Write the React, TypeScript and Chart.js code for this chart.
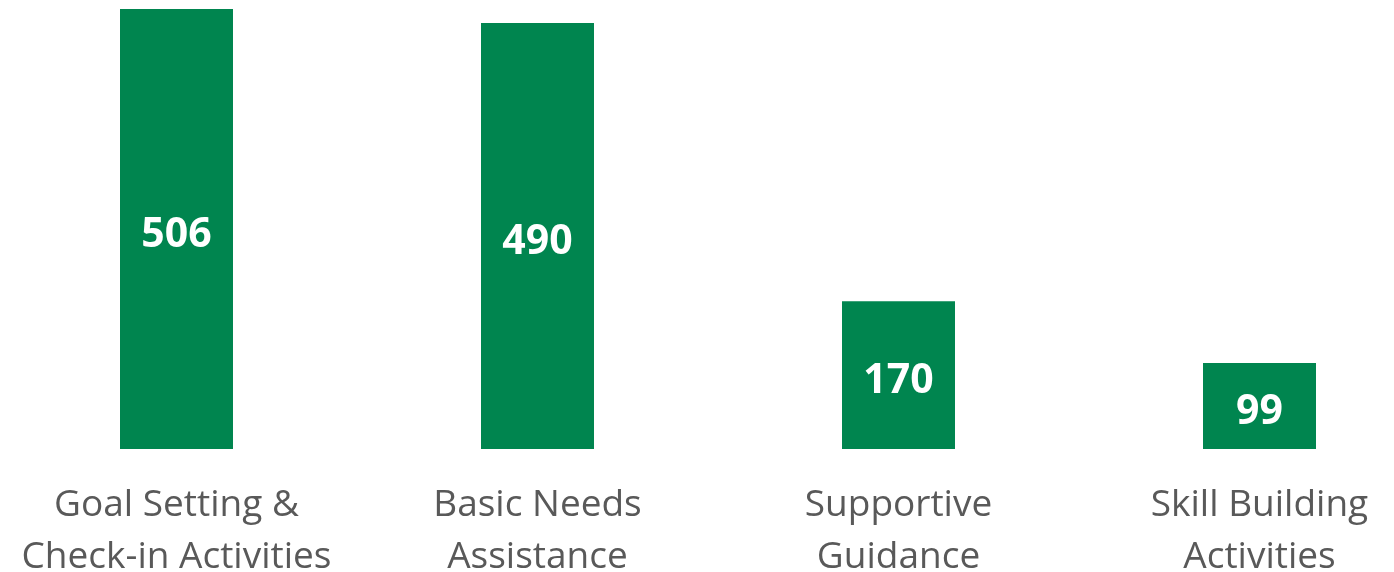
import React, { useEffect, useRef } from "react";
import { Chart, registerables } from "chart.js";

Chart.register(...registerables);

const categories: string[][] = [
  ["Goal Setting &", "Check-in Activities"],
  ["Basic Needs", "Assistance"],
  ["Supportive", "Guidance"],
  ["Skill Building", "Activities"],
];
const values: number[] = [506, 490, 170, 99];
const barColor = "#00854F";

const valueLabelPlugin = {
  id: "valueLabels",
  afterDatasetsDraw(chart: any) {
    const ctx = chart.ctx;
    const meta = chart.getDatasetMeta(0);
    ctx.save();
    ctx.fillStyle = "#ffffff";
    ctx.font = "bold 41px 'Open Sans'";
    ctx.textAlign = "center";
    ctx.textBaseline = "middle";
    meta.data.forEach((bar: any, i: number) => {
      const cy = (bar.y + bar.base) / 2;
      ctx.fillText(String(values[i]), bar.x, cy + 6);
    });
    ctx.restore();
  },
};

export default function App() {
  const ref = useRef<HTMLCanvasElement>(null);
  useEffect(() => {
    if (!ref.current) return;
    const chart = new Chart(ref.current, {
      type: "bar",
      data: {
        labels: categories,
        datasets: [
          {
            data: values,
            backgroundColor: barColor,
            categoryPercentage: 1,
            barPercentage: 0.313,
          },
        ],
      },
      options: {
        animation: false,
        responsive: false,
        maintainAspectRatio: false,
        layout: { padding: { top: 9, left: 0, right: 0, bottom: 0 } },
        plugins: { legend: { display: false }, tooltip: { enabled: false } },
        scales: {
          x: {
            offset: true,
            grid: { display: false, drawTicks: false },
            border: { display: false },
            ticks: {
              color: "#595959",
              font: { family: "'Open Sans'", size: 37, lineHeight: 52 / 37 },
              padding: 30,
              autoSkip: false,
              maxRotation: 0,
              minRotation: 0,
            },
            afterFit: (scale: any) => {
              scale.height = 123;
              scale.paddingLeft = 0;
              scale.paddingRight = 0;
            },
          },
          y: {
            display: false,
            min: 0,
            max: 506,
          },
        },
      },
      plugins: [valueLabelPlugin],
    });
    return () => chart.destroy();
  }, []);
  return (
    <div style={{ position: "fixed", left: -4.5, top: 0, width: 1444, height: 572 }}>
      <canvas ref={ref} width={1444} height={572} style={{ display: "block" }} />
    </div>
  );
}
